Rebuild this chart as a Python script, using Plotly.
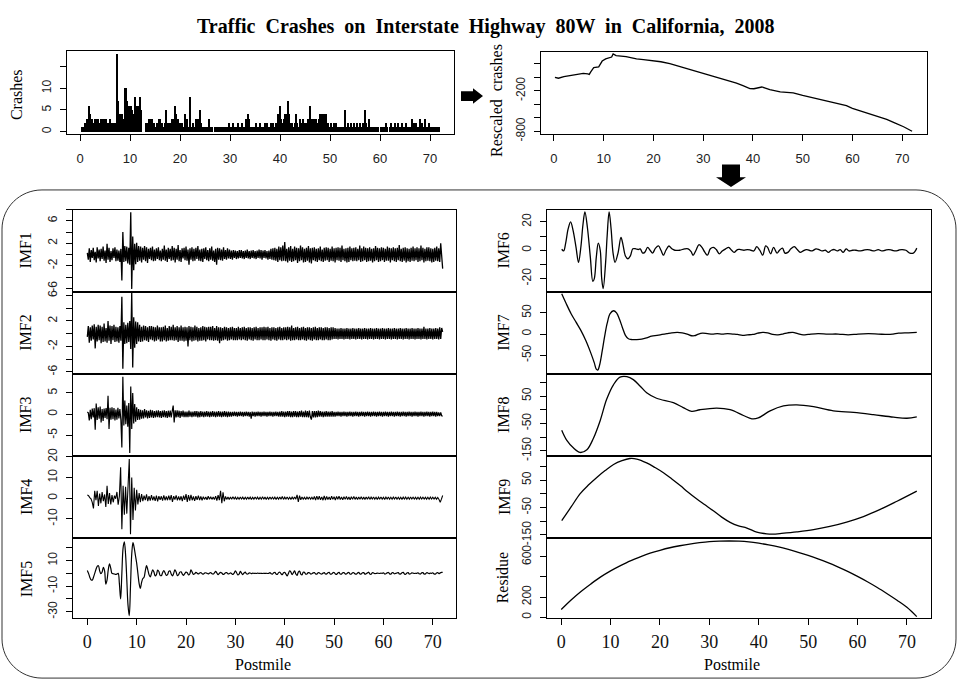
import numpy as np
import plotly.graph_objects as go

W, H = 958, 689
SERIF = "Liberation Serif, Times New Roman, serif"
SANS = "Liberation Sans, Arial, sans-serif"

# ---------------- data ----------------
# crash counts every 0.2 mile from 0.2 to 72.0
crashes = [
    0,1,1,1,2, 1,3,2,6,4, 2,3,1,2,3, 3,2,3,1,2, 3,2,3,3,2, 3,1,2,2,3, 1,2,2,1,2, 2,18,7,3,4,
    3,4,2,3,10, 10,7,5,6,5, 6,5,4,2,8, 6,5,6,4,8, 5,0,0,0,0, 2,2,1,3,3, 2,3,1,2,1, 1,2,1,3,3,
    1,2,1,1,2, 5,1,2,1,2, 1,3,2,3,6, 4,2,3,1,2, 1,2,1,1,4, 1,3,1,1,8, 1,1,2,1,1, 3,2,3,1,5,
    2,1,1,0,1, 0,1,0,3,1, 0,1,0,0,1, 0,1,1,0,1, 1,0,1,1,0, 1,1,1,2,1, 1,1,2,1,1, 1,1,2,1,1,
    1,2,1,1,1, 3,2,4,3,1, 1,0,1,0,1, 2,1,0,1,2, 1,1,0,1,2, 1,2,1,0,1, 2,1,2,1,1, 2,1,4,3,6,
    3,2,1,3,4, 4,4,7,4,2, 1,2,1,1,2, 4,2,1,1,3, 2,1,3,1,2, 2,1,3,2,6, 3,2,3,3,2, 3,1,2,3,4,
    2,4,4,4,4, 4,1,2,1,1, 2,1,1,2,1, 2,1,1,0,1, 0,1,1,1,5, 1,1,2,1,1, 2,1,1,2,1, 1,2,1,1,2,
    1,1,2,1,5, 2,1,1,3,1, 1,1,1,1,1, 1,1,1,0,0, 1,1,0,1,1, 2,1,0,0,1, 2,1,0,1,2, 1,0,2,1,0,
    1,2,0,1,0, 2,1,1,0,1, 1,3,1,2,1, 2,1,1,0,3, 1,2,1,1,3, 1,1,0,2,1, 0,1,1,0,1, 1,0,1,1,0,
]

rescaled_x = [0.2,0.9,2.0,3.2,4.5,5.9,6.8,7.1,7.4,8.0,9.0,9.4,9.7,10.4,11.0,11.6,11.9,12.5,14.5,16.6,
              18.0,20,21.5,23.3,25,26.7,28.5,30,31.5,33.3,35,36.7,38,39.4,40.2,40.8,41.8,42.5,43.4,45.5,
              48.1,50,51.5,53.4,55,56.8,58.8,60,61.5,63.5,65,66.9,68.5,70.3,72]
rescaled_y = [0,-14,10,24,40,57,50,43,81,144,153,200,240,273,287,300,345,321,307,273,
              262,249,230,201,165,129,90,48,20,-14,-50,-86,-125,-168,-170,-158,-144,-160,-182,-216,
              -230,-268,-295,-326,-352,-383,-421,-460,-495,-541,-578,-623,-676,-733,-800]

# IMF1..IMF3 every 0.2 mile from 0 to 72
imf1 = [
    0.3,-0.9,1.1,-1.3,0.8, -0.6,1.2,-1.0,0.5,-1.4, 1.3,-0.7,0.9,-1.2,1.0, -0.8,1.4,-1.1,0.7,-1.5,
    1.9,-0.9,1.2,-1.3,0.6, -1.0,1.1,-0.6,1.3,-1.2, 0.9,-1.1,0.7,-1.3,1.0, -4.6,4.0,-1.3,1.5,-1.2,
    1.4,-1.6,1.2,-1.8,7.5, -6.1,3.2,-2.8,1.9,-1.7, 2.1,-1.3,1.5,-1.1,1.4, -1.4,1.2,-0.9,1.5,-1.2,
    1.3,-1.5,1.0,-0.8,1.2, -1.0,1.4,-1.2,0.9,-1.1, 1.1,-0.8,1.3,-1.0,0.7, -1.2,1.0,-0.9,1.6,-1.1,
    0.9,-1.3,1.2,-0.8,1.0, -1.1,1.5,-1.0,1.2,-1.4, 1.0,-0.9,1.7,-1.2,0.8, -1.3,1.1,-0.7,1.2,-1.0,
    1.4,-1.1,0.9,-1.8,1.1, -0.9,1.3,-1.2,1.0,-1.1, 1.2,-0.8,1.5,-1.1,0.9, -1.2,1.0,-1.3,1.1,-0.8,
    1.3,-1.0,0.8,-1.2,1.1, -0.9,1.4,-1.1,0.7,-1.3, 1.0,-1.8,1.2,-0.9,1.1, -1.0,0.9,-1.1,1.3,-0.8,
    0.8,-0.9,1.1,-0.7,0.9, -0.8,0.7,-0.9,0.8,-0.6, 0.7,-0.8,0.6,-0.7,0.8, -0.6,0.8,-0.7,0.6,-0.8,
    0.7,-0.6,0.9,-0.7,0.6, -0.8,0.7,-0.6,0.8,-0.7, 0.6,-0.8,0.7,-0.6,0.9, -0.7,0.8,-0.9,0.7,-0.6,
    0.8,-0.7,0.6,-0.9,0.7, -0.8,1.0,-0.9,1.1,-1.0, 1.2,-1.1,1.0,-1.3,1.4, -1.0,1.3,-1.2,1.6,-1.1,
    2.2,-1.2,1.0,-1.4,1.3, -1.1,1.5,-1.3,1.0,-1.2, 1.4,-1.0,1.2,-1.5,1.1, -1.2,1.6,-1.0,1.3,-1.4,
    1.0,-1.3,1.2,-1.1,1.5, -1.4,1.1,-1.6,1.2,-1.0, 1.3,-1.2,1.0,-1.3,1.1, -1.0,1.4,-1.2,0.9,-1.3,
    1.2,-1.1,1.3,-1.0,1.2, -1.3,1.0,-1.1,1.4,-1.2, 1.1,-1.4,1.2,-1.0,1.3, -1.1,1.2,-1.3,1.6,-1.0,
    1.0,-1.2,1.1,-1.4,1.2, -1.3,1.4,-1.0,1.1,-1.2, 1.2,-1.1,1.3,-1.2,1.0, -1.0,1.6,-1.3,1.1,-1.2,
    1.4,-1.0,1.2,-1.3,1.1, -1.2,1.3,-1.1,1.0,-1.4, 1.1,-1.2,1.5,-1.0,1.2, -1.3,1.1,-1.2,1.3,-1.0,
    1.2,-1.3,1.0,-1.1,1.4, -1.1,1.2,-1.4,1.1,-1.0, 1.3,-1.2,1.1,-1.3,1.2, -1.0,1.7,-1.2,1.0,-1.3,
    1.2,-1.1,1.3,-1.4,1.1, -1.2,1.0,-1.3,1.2,-1.1, 1.4,-1.2,1.1,-1.0,1.3, -1.3,1.1,-1.2,1.6,-1.0,
    1.2,-1.4,1.0,-1.2,1.3, -1.1,1.3,-1.2,1.1,-1.4, 1.0,-1.3,1.2,-1.1,1.4, -1.2,1.1,-1.3,2.0,-1.1,
    -2.5,
]
imf2 = [
    -0.5,1.2,-1.4,1.0,-1.1, 1.3,-0.9,1.5,-2.3,1.1, -1.2,1.4,-1.0,1.3,-1.5, 1.1,-1.3,1.6,-1.2,0.9,
    -1.4,2.0,-1.1,1.3,-1.6, 1.2,-1.0,1.4,-1.3,1.1, -1.2,1.0,-1.4,1.2,-1.1, 5.8,-5.5,1.8,-1.6,1.4,
    -1.5,1.7,-1.3,2.0,-2.4, 6.5,-5.3,2.6,-2.2,1.9, -1.6,1.8,-1.2,1.4,-1.3, 1.1,-1.2,1.3,-1.0,1.2,
    -1.1,1.0,-1.3,1.2,-0.9, 1.2,-1.0,1.1,-1.2,1.0, -1.1,1.3,-0.9,1.0,-1.2, 1.0,-1.2,1.1,-1.0,1.3,
    -1.2,0.9,-1.1,1.2,-1.0, 1.1,-1.0,1.4,-1.1,1.0, -1.0,1.2,-1.3,1.0,-1.1, 1.3,-1.1,1.0,-1.2,1.1,
    -1.1,1.0,-2.0,1.2,-1.0, 1.1,-1.2,1.0,-1.1,1.3, -1.0,1.1,-1.2,0.9,-1.1, 1.0,-1.1,1.2,-1.0,1.1,
    -1.2,1.0,-0.9,1.1,-1.0, 1.1,-1.0,1.2,-1.1,0.9, -1.0,1.2,-1.1,1.0,-1.5, 1.0,-1.1,0.9,-1.0,1.1,
    -0.9,1.0,-1.1,0.9,-1.0, 1.0,-0.9,1.1,-1.0,0.9, -1.0,0.9,-1.0,1.1,-0.9, 0.9,-1.0,1.0,-0.9,1.1,
    -1.0,0.9,-1.1,1.0,-0.9, 1.0,-1.0,0.9,-1.1,1.0, -0.9,1.1,-1.0,0.9,-1.0, 1.0,-0.9,1.0,-1.0,1.1,
    -1.0,1.0,-0.9,1.1,-1.0, 0.9,-1.1,1.0,-0.9,1.0, -1.0,0.9,-1.1,1.0,-0.9, 1.1,-1.0,0.9,-1.0,1.0,
    -0.9,1.0,-1.0,1.1,-0.9, 1.0,-1.1,1.3,-1.0,0.9, -1.0,1.0,-0.9,1.1,-1.0, 0.9,-1.0,1.0,-0.9,1.1,
    -1.0,0.9,-1.1,1.0,-0.9, 1.0,-1.0,0.9,-1.1,1.0, -0.9,1.1,-1.0,0.9,-1.0, 1.0,-0.9,1.0,-1.0,0.9,
    -1.0,1.0,-0.9,1.0,-1.0, 0.9,-1.0,1.0,-0.9,1.0, -0.8,0.9,-0.8,0.8,-0.9, 0.8,-0.8,0.9,-0.8,0.8,
    -0.9,0.8,-0.8,0.9,-0.8, 0.8,-0.9,0.8,-0.8,0.9, -0.8,0.8,-0.9,0.8,-0.8, 0.9,-0.8,0.8,-0.9,0.8,
    -0.8,0.9,-0.8,0.8,-0.9, 0.8,-0.8,0.9,-0.8,0.8, -0.9,0.8,-0.8,0.9,-0.8, 0.8,-0.9,0.8,-0.8,0.9,
    -0.8,0.8,-0.9,0.8,-0.8, 0.9,-0.8,0.8,-0.9,0.8, -0.8,0.9,-0.8,0.8,-0.9, 0.8,-0.8,0.9,-0.8,0.8,
    -0.9,0.8,-0.8,0.9,-0.8, 0.8,-0.9,0.8,-0.8,0.9, -0.8,0.8,-0.9,0.8,-0.8, 0.9,-0.8,0.8,-0.9,0.8,
    -0.8,1.1,-0.8,0.8,-0.9, 0.8,-0.8,0.9,-0.8,0.8, -0.9,0.8,-0.8,0.9,-0.8, 0.8,-0.9,1.0,-0.8,0.9,
    0.3,
]
imf3 = [
    0.5,0.3,-1.5,1.0,-1.2, 1.3,-0.8,1.4,-3.7,2.5, -1.4,1.6,-1.1,1.8,-2.0, 1.2,-1.6,1.3,-0.9,1.4,
    -1.2,4.3,-3.5,1.5,-1.3, 1.6,-1.2,1.4,-1.5,1.1, -1.3,1.5,-1.0,1.2,-1.4, -7.9,8.8,-2.7,3.2,-2.4,
    2.0,-3.0,2.6,-9.2,6.5, -3.5,5.0,-2.2,2.4,-1.8, 1.6,-1.4,1.2,-1.3,1.0, -1.1,0.9,-1.0,1.2,-0.8,
    0.9,-1.0,0.8,-0.9,1.0, -0.8,0.9,-0.9,0.7,-0.8, 0.8,-0.7,0.9,-0.8,0.7, -0.9,0.8,-0.7,0.9,-0.8,
    0.7,-0.9,0.8,-0.7,0.8, -0.8,0.7,2.0,-2.0,0.9, -0.8,0.9,-0.7,0.8,-0.9, 0.7,-0.6,0.8,-0.7,0.6,
    -0.7,0.6,-0.7,0.8,-0.6, 0.6,-0.7,0.6,-0.6,0.7, -0.6,0.7,-0.8,0.6,-0.7, 0.7,-0.6,0.6,-0.7,0.6,
    -0.6,0.7,-0.6,0.6,-0.7, 0.6,-0.6,0.7,-0.6,0.6, -0.7,0.6,-0.6,0.7,-0.6, 0.6,-0.7,0.6,-0.6,0.7,
    -0.6,0.6,-0.7,0.6,-0.6, 0.5,-0.6,0.5,-0.5,0.6, -0.5,0.5,-0.6,0.5,-0.5, 0.6,-0.5,0.5,-0.6,0.5,
    -0.5,0.6,-0.5,0.5,-0.6, 0.5,-1.1,0.6,-0.5,0.5, -0.6,0.5,-0.5,0.6,-0.5, 0.5,-0.6,0.5,-0.5,0.6,
    -0.5,0.5,-0.6,0.5,-0.5, 0.6,-0.5,0.5,-0.6,0.5, -0.5,0.6,-0.5,0.5,-0.6, 0.6,-0.6,0.7,-0.6,0.6,
    -0.7,0.6,-0.6,0.7,-0.6, 0.7,-0.7,0.6,-0.7,0.7, -0.6,0.7,-0.7,0.6,-0.7, 0.7,-0.6,0.8,-0.7,0.6,
    -0.7,0.8,-0.7,0.7,-0.8, 0.8,-0.7,-1.3,0.7,-0.8, 0.7,-0.8,0.7,-0.7,0.8, -0.6,0.7,-0.6,0.6,-0.7,
    0.6,-0.6,0.7,-0.6,0.6, -0.6,0.6,-0.6,0.7,-0.6, 0.5,-0.6,0.5,-0.5,0.6, -0.5,0.5,-0.6,0.5,-0.5,
    0.6,-0.5,0.5,-0.6,0.5, -0.5,0.6,-0.5,0.5,-0.6, 0.5,-0.5,0.6,-0.5,0.5, -0.6,0.5,-0.5,0.6,-0.5,
    0.5,-0.6,0.5,-0.5,0.6, -0.5,0.5,-0.6,0.5,-0.5, 0.6,-0.5,0.5,-0.6,0.5, -0.5,0.6,-0.5,0.5,-0.6,
    0.5,-0.5,0.6,-0.5,0.5, -0.6,0.5,-0.5,0.6,-0.5, 0.5,-0.6,0.5,-0.5,0.6, -0.5,0.5,-0.6,0.5,-0.5,
    0.6,-0.5,0.5,-0.6,0.5, -0.5,0.6,-0.5,0.5,-0.6, 0.5,-0.5,0.6,-0.5,0.5, -0.6,0.5,-0.5,0.6,-0.5,
    0.5,-0.6,0.5,-0.5,0.6, -0.5,0.5,-0.6,0.5,-0.5, 0.6,-0.5,0.5,-0.6,0.5, -0.5,0.4,-0.5,0.4,-0.4,
    -0.5,
]
# IMF4, IMF5 every 0.25 mile from 0 to 72
imf4 = [
    1.6,1.2,0.3,-0.3, -2.0,-5.0,3.6,-1.0, 3.5,-3.8,2.2,-2.5, 3.0,-1.5,1.8,-4.3, 6.0,-2.8,2.5,-3.0,
    1.5,-2.0,1.2,-0.3, 3.0,-3.2,1.0,15.0, -15.0,6.0,-8.0,5.5, -7.5,6.0,19.0,-17.5, 10.0,-10.6,5.0,-6.0,
    4.0,-3.0,2.5,-2.0, 2.0,-1.5,1.2,-1.0, 1.8,-1.5,1.0,-1.2, 1.5,-1.0,0.8,-1.3, 1.2,-1.6,1.0,-0.8,
    0.9,-1.2,1.4,-1.0, 0.8,-1.0,1.2,-0.9, 1.5,-1.8,1.0,-0.7, 1.3,-1.1,0.8,-1.0, 0.9,-1.4,1.2,-0.8,
    2.0,-1.8,1.5,-1.2, 1.6,-1.0,0.8,-1.3, 1.0,-0.8,1.2,-0.9, 0.8,-1.0,0.7,-0.6, 0.6,-0.8,0.9,-0.5,
    0.7,-0.6,0.5,-0.7, 1.0,-1.2,1.5,-1.0, 3.5,-2.5,2.8,-1.5, 0.8,-0.6,0.5,-0.7, 0.6,-0.5,0.7,-0.4,
    0.5,-0.6,0.4,-0.5, 0.6,-0.4,0.5,-0.6, 0.4,-0.5,0.6,-0.4, 0.5,-0.6,0.4,-0.5, 0.6,-0.4,0.5,-0.6,
    0.4,-0.5,0.7,-0.5, 0.5,-0.6,0.4,-0.5, 0.6,-0.4,0.5,-0.4, 0.5,-0.6,0.4,-0.5, 0.6,-0.5,0.8,-0.6,
    0.5,-0.4,0.6,-0.5, 0.4,-0.6,0.5,-0.4, 0.6,-0.5,1.6,-1.8, 1.2,-0.8,0.6,-0.5, 0.4,-0.6,0.5,-0.4,
    0.6,-0.5,0.4,-0.6, 0.8,-0.9,1.0,-0.7, 0.9,-0.8,0.6,-1.0, 1.1,-0.9,0.8,-0.7, 0.6,-0.8,0.9,-0.6,
    0.7,-0.9,0.8,-0.5, 0.9,-0.7,0.6,-0.8, 0.7,-0.6,0.8,-0.7, 0.6,-0.8,0.7,-0.6, 0.8,-0.6,0.5,-0.7,
    0.6,-0.5,0.7,-0.6, 0.5,-0.7,0.6,-0.5, 0.7,-0.6,0.5,-0.4, 0.6,-0.5,0.4,-0.6, 0.5,-0.4,0.6,-0.5,
    0.4,-0.6,0.5,-0.4, 0.6,-0.5,0.4,-0.5, 0.5,-0.4,0.6,-0.5, 0.4,-0.5,0.4,-0.6, 0.5,-0.4,0.5,-0.5,
    0.4,-0.5,0.6,-0.4, 0.5,-0.4,0.4,-0.5, 0.4,-0.5,0.5,-0.4, 0.5,-0.4,0.4,-0.5, 0.4,-0.5,0.5,-0.4,
    0.5,-0.4,0.4,-0.5, 0.3,-0.6,-2.0,-0.5,
    1.3,
]
imf5 = [
    2.3,0.0,-3.0,-5.0, -5.3,-3.0,0.0,3.0, 5.5,6.0,2.0,-0.3, 1.0,4.8,2.0,-8.4, -5.0,3.0,7.4,4.0,
    0.0,-0.3,-0.5,-0.8, -0.5,0.0,-8.0,-20.0, 0.0,20.0,24.7,15.0, -5.0,-25.0,-33.0,-10.0, 15.0,24.0,20.0,14.0,
    8.0,0.0,-8.0,-11.7, -7.0,-4.0,-3.0,2.0, 6.0,3.0,-1.0,-2.8, 0.0,2.8,1.0,-2.0, -1.0,2.5,1.5,-1.5,
    -1.8,0.5,2.2,0.5, -1.6,-1.0,1.5,2.0, -0.5,-2.0,0.0,2.8, 1.0,-1.8,-1.0,1.0, 1.2,-0.5,-1.5,-0.2,
    1.0,0.5,-1.2,-0.5, 2.8,1.0,-0.8,-0.3, 0.8,0.2,-0.5,0.3, 0.6,-0.2,-0.6,0.2, 0.5,0.0,-0.4,0.2,
    0.6,-0.2,-0.5,0.4, 1.5,0.3,-1.0,0.0, 0.8,0.3,-0.8,-0.5, 0.5,0.6,-0.4,-0.3, 0.4,-0.2,-0.8,0.2,
    2.0,0.5,-1.2,-0.5, 1.5,0.2,-1.0,0.3, 1.0,-0.3,-0.5,0.2, 0.3,-0.2,0.2,0.0, 0.1,-0.1,0.2,0.0,
    0.1,0.0,-0.1,0.1, 0.0,0.1,-0.1,0.0, 0.6,-0.3,-0.6,0.4, 0.8,-0.5,-0.8,0.6, 0.9,-0.3,-1.0,0.5,
    0.8,-0.6,-2.0,0.0, 2.0,1.0,-1.0,0.5, 2.0,-0.5,-1.5,1.0, 1.8,-0.5,-1.2,0.8, 0.8,-0.6,-0.5,0.6,
    0.5,-0.5,-0.3,0.4, 0.6,-0.4,-0.6,0.5, 0.4,-0.3,-0.5,0.2, 0.6,-0.5,-0.4,0.5, 0.8,-0.6,-0.5,0.4,
    0.7,-0.4,-0.8,0.3, 0.8,-0.5,-0.6,0.5, 0.6,-0.4,-0.5,0.4, 0.7,-0.6,-0.5,0.5, 0.5,-0.4,-0.6,0.3,
    0.8,-0.5,-0.4,0.5, 0.6,-0.6,-0.3,0.4, 0.9,-0.5,-0.7,0.5, 0.3,-0.2,0.0,0.2, 0.1,-0.1,0.2,0.0,
    0.5,-0.5,-0.3,0.4, 0.7,-0.4,-0.6,0.5, 0.4,-0.3,0.0,0.3, 0.6,-0.5,-0.4,0.5, 0.8,-0.4,-0.7,0.3,
    0.6,-0.5,-0.3,0.4, 0.2,-0.1,0.1,0.0, 0.5,-0.3,-0.5,0.4, 0.6,-0.5,-0.4,0.5, 0.3,-0.2,0.2,0.0,
    0.5,-0.4,-0.6,0.3, 0.6,-0.2,0.4,0.8,
    0.8,
]

imf6_x = [0.1,0.5,0.9,1.4,1.9,2.4,3.0,3.5,4.0,4.4,4.8,5.3,5.9,6.4,6.7,7.1,7.5,7.9,8.2,8.5,
          9.0,9.3,9.7,10.1,10.5,10.9,11.5,12.1,12.5,13.0,13.5,14.0,14.5,15.1,15.6,16.0,16.5,16.9,17.5,18,
          18.5,19.1,19.7,20.2,20.7,21.2,21.8,22.4,23,24,25,25.7,26.3,26.7,27.3,27.9,28.5,29.1,29.6,30.2,
          30.8,31.4,32,32.6,33.3,33.9,34.5,35,35.7,36.3,37,37.7,38.4,39,39.6,40.2,40.8,41.4,41.8,42.4,
          43,43.7,44.2,44.8,45.3,45.9,46.5,47.2,47.8,48.4,49,49.6,50.2,50.8,51.6,52.2,52.8,53.5,54.1,54.7,
          55.3,55.9,56.5,57.1,57.7,58.3,59,59.7,60.4,61.2,62,62.7,63.4,64.2,64.9,65.6,66.3,67,67.7,68.3,
          69,69.8,70.6,71.3,71.7,72]
imf6_y = [0.7,-0.5,5,15,20,14,2,-8.5,3,18,27,16,-5,-22,-20,-5,5,0,-20,-27,
          -8,10,27,15,-2,-8.5,-2,9,4,-4,-6,-4,1,1,0.5,1,-2,-1.5,2,0,
          -2,1.5,3,0,-3.5,0,3,1,0,0,1,1,-1,-3.5,0,4,2,-1.5,-3.5,1,
          2,0.5,-2.5,-0.5,1,2,0,-1.5,0.5,0.5,0,0.5,0,-0.5,2.5,0,-3.5,3,2,-2.5,
          2,-2,0,1.5,-2,-1.5,1,2.5,0.5,-1.5,-0.5,0.5,0,-0.5,1,0.5,-0.5,0,-1.5,0,
          0.5,-0.5,0.5,-1.5,1,-0.5,0,0,-0.5,0,0.5,0,-0.5,0.5,-0.5,0,0.5,0,-0.5,0,
          0.5,0,-2,-2,-0.5,1.5]

imf7_x = [0.1,1,2,3,4,5,6,6.7,7.1,7.4,7.8,8.3,8.8,9.3,9.9,10.6,11.2,11.8,12.4,13,
          13.6,14.3,15.3,16.3,17.3,18.3,19.4,20.4,21.4,22.4,23.5,24.5,25.5,26.4,27,27.8,28.6,29.6,30.6,31.6,
          32.6,33.7,34.7,35.7,36.7,37.7,38.8,39.8,40.8,41.8,42.8,43.9,44.9,45.9,46.9,47.9,49,50,52,54,
          56.1,58.1,60.1,62.2,64.2,66.2,67.2,68.3,70.3,72]
imf7_y = [95,72,48,28,8,-16,-45,-68,-83,-85,-72,-40,-5,25,48,55,50,35,15,-3,
          -11,-13,-13,-12,-9,-5,-3,-1,1,3,4,3,0,-4,-4,0,2,1,0,1,
          0,1,0,-1,-3,-2,-1,2,4,3,-1,-2,0,3,4,1,-2,-1,1,0,
          0,-2,0,1,0,-1,0,2,3,4]

imf8_x = [0.1,1.1,2.5,3.8,5.2,6.5,7.9,9.2,10.6,11.9,13.3,14.6,16.0,17.3,19.3,22.7,24.7,26.4,28.1,31.5,
          34.2,36.9,38.6,39.9,42.3,45.0,47.7,51.1,55.1,59.2,63.2,67.3,70.0,72.0]
imf8_y = [-75,-111,-140,-156,-146,-105,-39,38,92,119,121,110,86,62,42,26,8,-6,0,6,
          0,-21,-33,-30,-4,14,18,11,-4,-10,-18,-27,-31,-26]

imf9_x = [0.1,2,3.8,5.5,7.2,8.9,10.6,12.3,13.9,15.3,17.3,19,20.7,22.4,24.1,25.7,27.4,29.1,30.8,32.5,
          34.2,35.9,37.6,39.6,41.6,43,44.3,47.7,51.1,54.4,57.8,61.2,64.6,68,72]
imf9_y = [-98,-48,0,32,60,85,107,121,129,127,113,96,77,54,30,6,-18,-40,-62,-85,
          -104,-117,-125,-140,-146,-147,-145,-139,-131,-119,-103,-83,-57,-27,10]

residue_x = [0,2,4,6,8,10,12,14,16,18,20,22,24,26,28,30,32,34,36,38,40,42,44,46,48,50,52,54,56,58,60,62,64,66,68,70,72]
residue_y = [75,170,255,330,400,460,512,560,600,636,665,690,710,727,740,750,755,757,755,748,735,718,698,673,645,614,580,542,500,455,405,352,295,233,168,98,5]

x_ticks = [0, 10, 20, 30, 40, 50, 60, 70]

# ---------------- layout helpers ----------------
def xd(a, b):
    return [a / W, b / W]

def yd(top, bot):
    return [1 - bot / H, 1 - top / H]

def pp(px, py):
    return f"{px / W:.5f},{1 - py / H:.5f}"

rows = [(206, 290), (290, 374), (374, 458), (458, 542), (542, 624)]

panels = [
    dict(x=(67, 454), y=(44, 129), xr=[-2.6, 74.8], yr=[-0.6, 18.6],
         tv=[0, 5, 10, 15], tt=["0", "5", "10", ""], xl="top"),
    dict(x=(541, 927), y=(45, 129), xr=[-2.6, 75.0], yr=[-843, 374],
         tv=[-800, -600, -400, -200, 0, 200], tt=["-800", "", "", "-200", "", ""], xl="top"),
    dict(x=(73, 456), y=rows[0], xr=[-2.9, 74.7], yr=[-6.6, 8.0],
         tv=[-6, -4, -2, 0, 2, 4, 6, 8], tt=["-6", "", "-2", "", "2", "", "6", ""], xl=None),
    dict(x=(73, 456), y=rows[1], xr=[-2.9, 74.7], yr=[-6.3, 6.6],
         tv=[-6, -4, -2, 0, 2, 4, 6], tt=["-6", "", "-2", "", "2", "", "6"], xl=None),
    dict(x=(73, 456), y=rows[2], xr=[-2.9, 74.7], yr=[-9.9, 9.5],
         tv=[-5, 0, 5], tt=["-5", "0", "5"], xl=None),
    dict(x=(73, 456), y=rows[3], xr=[-2.9, 74.7], yr=[-19.4, 20.4],
         tv=[-10, 0, 10, 20], tt=["-10", "0", "10", "20"], xl=None),
    dict(x=(73, 456), y=rows[4], xr=[-2.9, 74.7], yr=[-35.2, 27.5],
         tv=[-30, -20, -10, 0, 10, 20], tt=["-30", "", "-10", "", "10", ""], xl="bottom"),
    dict(x=(547, 931), y=rows[0], xr=[-2.88, 74.88], yr=[-29.2, 28.7],
         tv=[-20, -10, 0, 10, 20], tt=["-20", "", "0", "", "20"], xl=None),
    dict(x=(547, 931), y=rows[1], xr=[-2.88, 74.88], yr=[-94, 100],
         tv=[-50, 0, 50], tt=["-50", "0", "50"], xl=None),
    dict(x=(547, 931), y=rows[2], xr=[-2.88, 74.88], yr=[-169, 131],
         tv=[-150, -100, -50, 0, 50, 100], tt=["-150", "", "-50", "", "50", ""], xl=None),
    dict(x=(547, 931), y=rows[3], xr=[-2.88, 74.88], yr=[-162, 138],
         tv=[-150, -100, -50, 0, 50, 100], tt=["-150", "", "-50", "", "50", ""], xl=None),
    dict(x=(547, 931), y=rows[4], xr=[-2.88, 74.88], yr=[-13, 785],
         tv=[0, 200, 400, 600], tt=["0", "200", "", "600"], xl="bottom"),
]

fig = go.Figure()

series = [
    (np.linspace(0.2, 72.0, len(crashes)), crashes, "bar", 1),
    (rescaled_x, rescaled_y, "linear", 1.3),
    (np.linspace(0, 72, len(imf1)), imf1, "linear", 1.3),
    (np.linspace(0, 72, len(imf2)), imf2, "linear", 1.3),
    (np.linspace(0, 72, len(imf3)), imf3, "linear", 1.2),
    (np.linspace(0, 72, len(imf4)), imf4, "linear", 1.1),
    (np.linspace(0, 72, len(imf5)), imf5, "spline", 1.2),
    (imf6_x, imf6_y, "spline", 1.3),
    (imf7_x, imf7_y, "spline", 1.3),
    (imf8_x, imf8_y, "spline", 1.3),
    (imf9_x, imf9_y, "spline", 1.3),
    (residue_x, residue_y, "spline", 1.3),
]

for i, (xs, ys, kind, lw) in enumerate(series):
    sfx = "" if i == 0 else str(i + 1)
    if kind == "bar":
        fig.add_trace(go.Bar(x=xs, y=ys, width=0.2, marker=dict(color="black", line=dict(width=0)),
                             xaxis="x" + sfx, yaxis="y" + sfx, hoverinfo="skip"))
    else:
        fig.add_trace(go.Scatter(x=xs, y=ys, mode="lines", line=dict(color="black", width=lw, shape=kind),
                                 xaxis="x" + sfx, yaxis="y" + sfx, hoverinfo="skip"))

layout = dict(width=W, height=H, margin=dict(l=0, r=0, t=0, b=0), autosize=False,
              paper_bgcolor="white", plot_bgcolor="white", showlegend=False, bargap=0)

for i, p in enumerate(panels):
    sfx = "" if i == 0 else str(i + 1)
    xa = dict(domain=xd(*p["x"]), range=p["xr"], anchor="y" + sfx, showgrid=False, zeroline=False,
              showline=True, mirror=True, linecolor="black", linewidth=1, fixedrange=True)
    if p["xl"] is None:
        xa.update(ticks="", showticklabels=False)
    else:
        xa.update(ticks="outside", ticklen=6, tickcolor="black", tickwidth=1,
                  tickvals=x_ticks, ticktext=[str(v) for v in x_ticks])
        if p["xl"] == "top":
            xa.update(tickfont=dict(family=SANS, size=13, color="#222"), ticklabelstandoff=6)
        else:
            xa.update(tickfont=dict(family=SERIF, size=18, color="#111"), ticklabelstandoff=1)
    ya = dict(domain=yd(*p["y"]), range=p["yr"], anchor="x" + sfx, showgrid=False, zeroline=False,
              showline=True, mirror=True, linecolor="black", linewidth=1, fixedrange=True,
              ticks="outside", ticklen=6, tickcolor="black", tickwidth=1,
              tickvals=p["tv"], ticktext=p["tt"], tickangle=-90,
              tickfont=dict(family=SANS, size=12, color="#222"), ticklabelstandoff=4)
    layout["xaxis" + sfx] = xa
    layout["yaxis" + sfx] = ya

fig.update_layout(**layout)

# ---------------- text ----------------
sp = " \u00a0"
title = sp.join(["Traffic", "Crashes", "on", "Interstate", "Highway", "80W", "in", "California,", "2008"])
ann = []
ann.append(dict(text="<b>" + title + "</b>", x=486 / W, y=1 - 19 / H, xref="paper", yref="paper",
                showarrow=False, font=dict(family=SERIF, size=20, color="black"),
                xanchor="center", yanchor="middle"))

labels = [
    ("Crashes", 16, 88),
    ("Rescaled" + sp + "crashes", 497, 94),
    ("IMF1", 26, 248), ("IMF2", 26, 332), ("IMF3", 26, 416), ("IMF4", 26, 500), ("IMF5", 26, 584),
    ("IMF6", 504, 248), ("IMF7", 504, 332), ("IMF8", 504, 416), ("IMF9", 504, 500), ("Residue", 502, 582),
]
for t, px, py in labels:
    ann.append(dict(text=t, x=px / W, y=1 - py / H, xref="paper", yref="paper", showarrow=False,
                    textangle=-90, font=dict(family=SERIF, size=16, color="black"),
                    xanchor="center", yanchor="middle"))
for px in (263, 732):
    ann.append(dict(text="Postmile", x=px / W, y=1 - 671 / H, xref="paper", yref="paper", showarrow=False,
                    font=dict(family=SERIF, size=16, color="black"), xanchor="center", yanchor="middle"))
fig.update_layout(annotations=ann)

# ---------------- decorations ----------------
L, T, R, B, r = 2, 186, 956, 685, 40
k = 0.5523 * r
frame = ("M " + pp(L + r, T) + " L " + pp(R - r, T) +
         " C " + pp(R - r + k, T) + " " + pp(R, T + r - k) + " " + pp(R, T + r) +
         " L " + pp(R, B - r) +
         " C " + pp(R, B - r + k) + " " + pp(R - r + k, B) + " " + pp(R - r, B) +
         " L " + pp(L + r, B) +
         " C " + pp(L + r - k, B) + " " + pp(L, B - r + k) + " " + pp(L, B - r) +
         " L " + pp(L, T + r) +
         " C " + pp(L, T + r - k) + " " + pp(L + r - k, T) + " " + pp(L + r, T) + " Z")
right_arrow = ("M " + pp(461, 85) + " L " + pp(473, 85) + " L " + pp(473, 82) + " L " + pp(483, 90) +
               " L " + pp(473, 98) + " L " + pp(473, 95) + " L " + pp(461, 95) + " Z")
down_arrow = ("M " + pp(722, 160) + " L " + pp(740, 160) + " L " + pp(740, 173) + " L " + pp(746, 173) +
              " L " + pp(731, 183) + " L " + pp(716, 173) + " L " + pp(722, 173) + " Z")
fig.update_layout(shapes=[
    dict(type="path", path=frame, xref="paper", yref="paper", line=dict(color="#333", width=1), layer="below"),
    dict(type="path", path=right_arrow, xref="paper", yref="paper", fillcolor="black", line=dict(width=0)),
    dict(type="path", path=down_arrow, xref="paper", yref="paper", fillcolor="black", line=dict(width=0)),
])

fig.write_html("out.html")
